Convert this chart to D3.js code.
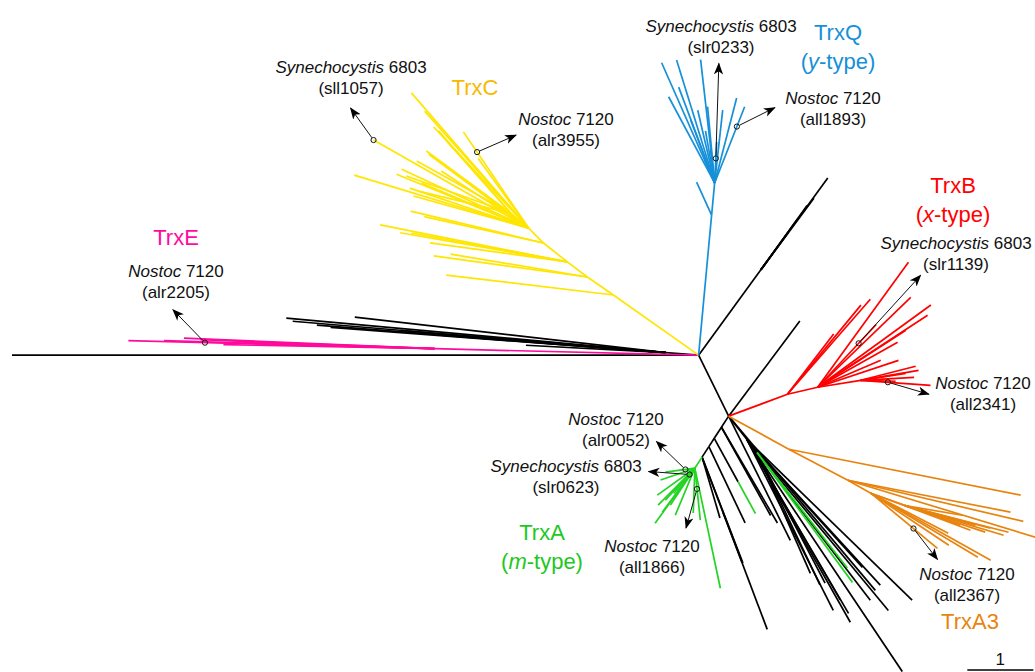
<!DOCTYPE html>
<html><head><meta charset="utf-8">
<script src="https://cdn.jsdelivr.net/npm/d3@7"></script>
<style>
body{margin:0;background:#fff}
svg{display:block}
text{font-family:"Liberation Sans",Arial,Helvetica,sans-serif;white-space:pre}
</style>
</head><body>
<svg id="chart" width="1035" height="672"></svg>
<script>
// ---------- DATA: branches as [node, parent, angle (deg, CCW from east), branch length (subst./site)] ----------
const backbone = [
  ["out","root",180,10.4],
  ["k0","root",175.5,0.5],
  ["n1","root",53.9,1.6],
  ["B","root",-63.8,1.03],
  ["b1","B",53.2,1.8],
  ["s1","B",237,0.2],
  ["s2","s1",237,0.2],
  ["s3","s2",237,0.15],
  ["s4","s3",237,0.19],
  ["f1","B",-52,0.45],
  ["f2","f1",-52,0.25]
];
const otherTips = [
  ["k1","k0",174.8,5.77],["k2","k0",175.2,5.67],["k3","k0",175.5,5.3],["k4","k0",173.5,4.74],
  ["k5","k0",177,2.12],["k6","k0",175.6,3.42],["k7","k0",175.2,4.03],["k8","k0",175.7,5.09],
  ["n1a","n1",53.9,1.72],["n1b","n1",54.3,1.2],["n1c","n1",53.5,1.35],["n1d","n1",54.1,0.95],["n1e","n1",53.7,0.7],
  ["s1a","s1",-59.7,1.68],["s1b","s1",-60.9,1.53],["s2g","s2",-61.3,0.75],["s3a","s3",-64.6,1.28],
  ["s4a","s4",-69.2,0.9],["s4b","s4a",-69.3,1.89],["s4c","s4a",-69,0.8],["s4d","s4",-73.6,0.96],["s4e","s4",-68.9,1.72],
  ["f1a","f1",-44.2,3.49],["f1b","f1",-50.4,3.36],["f1c","f1",-47.9,2.61],["f1d","f1",-60.5,3.18],
  ["f1e","f1",-59.7,3.05],["f1f","f1",-63.2,2.9],["f1g","f1",-56.2,4.23],["f1h","f1",-52.5,3.07],
  ["f1i","f1",-59.8,2.81],["f1j","f1",-47.5,2.99],
  ["f2a","f2",-62.5,2.23],["f2b","f2",-64.6,2.22],["f2c","f2",-66.2,2.0],
  ["Ba","B",-63.6,2.1],["Bb","B",-49.9,3.45]
];
const trxE = [
  ["e0","root",178.6,4.0],["e1","e0",178.5,4.64],["e2","e0",177.6,3.8],["e3","e0",177.8,3.55],
  ["e4","e0",178.3,4.1],["e5","e0",178.1,2.9],["e6","e0",178.9,3.2]
];
const trxC = [
  ["c1","root",144.8,1.58],["c1a","c1",173.2,2.55],
  ["c2","c1",145.3,0.48],["c2a","c2",172.2,2.35],["c2b","c2",170.5,2.1],
  ["c3","c2",143,0.38],["c3a","c3",168.8,2.89],["c3b","c3",170.1,2.57],["c3c","c3",172.1,2.1],["c3d","c3",169.5,2.4],
  ["c4","c3",141.6,0.46],["c4a","c4",166.5,2.07],["c4b","c4",167.5,1.85],
  ["c5","c4",135,0.32],["c5a","c5",163.1,2.76],["c5b","c5",157.8,2.16],["c5c","c5",155.1,2.12],
  ["c5d","c5",161.4,1.9],["c5e","c5",164.4,1.81],["c5syn","c5",150.4,2.7],["c5f","c5",130.9,2.71],
  ["c5g","c5",131.6,2.37],["c5h","c5",133.2,2.1],["c5i","c5",124.1,1.76],["c5n","c5",125.9,1.3],
  ["c5j","c5",143.5,1.88],["c5k","c5",157.2,1.76],["c5l","c5",146.8,1.58],
  ["c6","c5",140,0.35],["c6a","c6",151,1.63],["c6b","c6",143.6,1.59],["c6c","c6",131.3,1.66],
  ["c6d","c6",131.7,1.46],["c6e","c6",160.4,1.68],["c6f","c6",166.5,1.42]
];
const trxQ = [
  ["q1","root",84.7,2.13],["q1a","q1",114.4,0.55],["q2","q1",84.6,0.49],
  ["q2a","q2",113.8,1.99],["q2b","q2",107.2,1.95],["q2c","q2",96.5,1.88],["q2d","q2",75.5,1.33],
  ["q2nos","q2",68.5,1.24],["q2e","q2",118.1,1.48],["q2f","q2",110.6,1.55],["q2g","q2",95.3,1.16],
  ["q2h","q2",110.9,1.02],["q2i","q2",103.1,1.13],["q2j","q2",83.7,1.11],["q2syn","q2",87.2,0.62],
  ["q2k","q2",97,0.5],["q2l","q2",113.5,0.38],["q2m","q2",100,0.8]
];
const trxB = [
  ["r1","B",20.4,0.95],["r1a","r1",48.9,1.91],["r1b","r1",50.5,1.75],["r1c","r1",52.5,1.15],
  ["r2","r1",13.1,0.47],["r2a","r2",54,2.34],["r2b","r2",36,2.12],["r2c","r2",33.2,1.99],["r2d","r2",44,1.96],
  ["r2e","r2",29.4,1.39],["r2f","r2",18.4,1.29],["r2g","r2",23.2,1.04],["r2h","r2",32.9,1.59],["r2syn","r2",47,1.3],
  ["r3","r2",9.2,0.66],["r3nos","r3",-4.1,1.06],["r3a","r3",9.8,0.89],["r3b","r3",3.2,0.81],
  ["r3c","r3",8.8,0.69],["r3d","r3",-1.6,0.53],["r3e","r3",14.3,0.86]
];
const trxA3 = [
  ["o1","B",-28.8,1.04],["o1a","o1",-11.2,3.58],
  ["o2","o1",-27.7,1.01],["o2a","o2",-11.1,2.51],["o2b","o2",-13.2,2.73],["o2c","o2",-16.9,2.97],
  ["o3","o2",-29.5,0.4],["o3a","o3",-29.2,2.08],["o3b","o3",-30.9,1.89],["o3c","o3",-33.7,1.42],
  ["o3nos","o3",-39.6,1.31],["o3d","o3",-19.7,1.44],["o3e","o3",-27.3,1.32],
  ["o4","o3",-20,0.55],["o4a","o4",-14.4,1.62],["o4b","o4",-16.7,1.56],["o4c","o4",-18.3,1.28],
  ["o4d","o4",-9.5,0.88],["o4e","o4",-15.6,1.11],["o4f","o4",-14.8,1.34],["o4g","o4",-20.6,1.06]
];
const trxA = [
  ["g0","s4",237,0.2],["g1","g0",234.2,1.03],["g2","g0",215.7,0.7],["g3","g0",187.7,0.45],
  ["g4","g0",199.1,0.55],["g5","g0",233.5,0.83],["g6","g0",236.4,0.67],["g7","g0",227.2,0.66],
  ["g8","g0",247.4,0.77],["g9","g0",225.2,0.79],["g10","g0",282,1.86],["g11","g0",276,0.79],
  ["g12","g0",268,0.68],["g13","g0",230,0.5],
  ["s2t","s2g",-61.3,0.55],["f2g1","f2",-53.7,2.44],["f2g2","f2",-52,2.22]
];
const cladeNames = ["other","TrxE","TrxC","TrxQ","TrxB","TrxA3","TrxA"];

// annotated genes: [node, fraction along branch, genus, strain, locus]
const annotations = [
  ["c5syn",1,"Synechocystis","6803","sll1057"],
  ["c5i",0.79,"Nostoc","7120","alr3955"],
  ["q2syn",0.6,"Synechocystis","6803","slr0233"],
  ["q2nos",0.74,"Nostoc","7120","all1893"],
  ["r2syn",0.7,"Synechocystis","6803","slr1139"],
  ["r3nos",0.39,"Nostoc","7120","all2341"],
  ["g3",0.32,"Nostoc","7120","alr0052"],
  ["g13",0.25,"Synechocystis","6803","slr0623"],
  ["g11",0.4,"Nostoc","7120","all1866"],
  ["o3nos",0.64,"Nostoc","7120","all2367"],
  ["e1",0.75,"Nostoc","7120","alr2205"]
];
// clade labels: [clade, name, italic type letter]
const cladeLabels = [
  ["TrxC","TrxC",null],["TrxQ","TrxQ","y"],["TrxB","TrxB","x"],
  ["TrxA","TrxA","m"],["TrxA3","TrxA3",null],["TrxE","TrxE",null]
];
const scaleBarValue = 1;

// ---------- LAYOUT ----------
const annotLayout = {
  sll1057:{arrow:[-23,-32],label:[351,67]},
  alr3955:{arrow:[39,-17],label:[566,119]},
  slr0233:{arrow:[3,-95],label:[721,26]},
  all1893:{arrow:[38,-19],label:[833,98]},
  slr1139:{arrow:[62,-68],label:[956,243]},
  all2341:{arrow:[41,12],label:[983,383]},
  alr0052:{arrow:[-29,-28],label:[616,419]},
  slr0623:{arrow:[-41,-3],label:[566,466]},
  all1866:{arrow:[-11,39],label:[652,546]},
  all2367:{arrow:[24,31],label:[967,574]},
  alr2205:{arrow:[-32,-33],label:[176,271]}
};
const cladeLayout = {
  TrxC:[475,87],TrxQ:[838,32],TrxB:[953,185],TrxA:[542,532],TrxA3:[970,621],TrxE:[176,237]
};

const svg = d3.select("#chart");
const x = d3.scaleLinear().domain([-10.4,5.08]).range([12,1034]);
const y = d3.scaleLinear().domain([5.38,-4.8]).range([0,672]);
const lineColor = d3.scaleOrdinal().domain(cladeNames)
  .range(["#000000","#ff0a9c","#ffe600","#1690d8","#ff0000","#e8840e","#24d424"]);
const textColor = d3.scaleOrdinal().domain(cladeNames)
  .range(["#000000","#ff0a9c","#f7b900","#1690d8","#ff0000","#e8840e","#1ec81e"]);

const groups = [[backbone,"other"],[otherTips,"other"],[trxE,"TrxE"],[trxC,"TrxC"],
  [trxQ,"TrxQ"],[trxB,"TrxB"],[trxA3,"TrxA3"],[trxA,"TrxA"]];
const branches = [];
groups.forEach(([arr,clade]) => arr.forEach(([id,parent,angle,len]) =>
  branches.push({id,parent,angle,len,clade})));

const pos = new Map([["root",{x:0,y:0}]]);
branches.forEach(b => {
  const p = pos.get(b.parent), r = b.angle*Math.PI/180;
  pos.set(b.id,{x:p.x+b.len*Math.cos(r), y:p.y+b.len*Math.sin(r)});
});
const byId = new Map(branches.map(b=>[b.id,b]));

// arrow marker
svg.append("defs").append("marker")
  .attr("id","ah").attr("viewBox","0 -5 12 10").attr("refX",11).attr("refY",0)
  .attr("markerWidth",12).attr("markerHeight",10).attr("markerUnits","userSpaceOnUse")
  .attr("orient","auto")
  .append("path").attr("d","M0,-4.6L12,0L0,4.6L3.2,0Z").attr("fill","#000");

// branches
svg.append("g").selectAll("line").data(branches).join("line")
  .attr("x1",d=>x(pos.get(d.parent).x)).attr("y1",d=>y(pos.get(d.parent).y))
  .attr("x2",d=>x(pos.get(d.id).x)).attr("y2",d=>y(pos.get(d.id).y))
  .attr("stroke",d=>lineColor(d.clade)).attr("stroke-width",1.7);

// annotation markers, arrows and labels
const ann = annotations.map(([node,t,genus,strain,locus]) => {
  const b = byId.get(node), p = pos.get(b.parent), c = pos.get(node);
  return {node,genus,strain,locus,clade:b.clade,
    cx:x(p.x+(c.x-p.x)*t), cy:y(p.y+(c.y-p.y)*t)};
});
const ga = svg.append("g");
ga.selectAll("line").data(ann).join("line")
  .attr("x1",d=>{const [dx,dy]=annotLayout[d.locus].arrow,L=Math.hypot(dx,dy);return d.cx+dx/L*2.8;})
  .attr("y1",d=>{const [dx,dy]=annotLayout[d.locus].arrow,L=Math.hypot(dx,dy);return d.cy+dy/L*2.8;})
  .attr("x2",d=>d.cx+annotLayout[d.locus].arrow[0])
  .attr("y2",d=>d.cy+annotLayout[d.locus].arrow[1])
  .attr("stroke","#111").attr("stroke-width",1).attr("marker-end","url(#ah)");
ga.selectAll("circle").data(ann).join("circle")
  .attr("cx",d=>d.cx).attr("cy",d=>d.cy).attr("r",2.6)
  .attr("fill","none").attr("stroke","#111").attr("stroke-width",1);

const gl = svg.append("g").attr("font-size",17).attr("fill","#111").attr("text-anchor","middle");
ann.forEach(d => {
  const [lx,ly] = annotLayout[d.locus].label;
  const t1 = gl.append("text").attr("x",lx).attr("y",ly).attr("dominant-baseline","central");
  t1.append("tspan").attr("font-style","italic").text(d.genus);
  t1.append("tspan").text(" "+d.strain);
  gl.append("text").attr("x",lx).attr("y",ly+21).attr("dominant-baseline","central").text("("+d.locus+")");
});

// clade labels
const gc = svg.append("g").attr("font-size",22).attr("text-anchor","middle");
cladeLabels.forEach(([clade,name,type]) => {
  const [lx,ly] = cladeLayout[clade];
  gc.append("text").attr("x",lx).attr("y",ly).attr("dominant-baseline","central")
    .attr("fill",textColor(clade)).text(name);
  if (type) {
    const t = gc.append("text").attr("x",lx).attr("y",ly+29).attr("dominant-baseline","central")
      .attr("fill",textColor(clade));
    t.append("tspan").text("(");
    t.append("tspan").attr("font-style","italic").text(type);
    t.append("tspan").text("-type)");
  }
});

// scale bar
const sb0 = 4.07;
svg.append("line").attr("x1",x(sb0)).attr("x2",x(sb0+scaleBarValue))
  .attr("y1",670).attr("y2",670).attr("stroke","#000").attr("stroke-width",1.5);
svg.append("text").attr("x",(x(sb0)+x(sb0+scaleBarValue))/2).attr("y",659)
  .attr("dominant-baseline","central").attr("text-anchor","middle").attr("font-size",17)
  .attr("fill","#111").text(scaleBarValue);
</script>
</body></html>
